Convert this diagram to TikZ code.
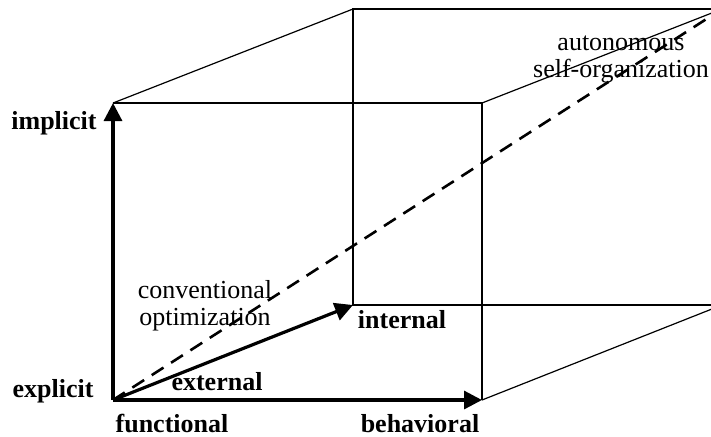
\documentclass[tikz,border=0pt]{standalone}
\usepackage{fontspec}
\setmainfont{Liberation Serif}
\usetikzlibrary{arrows.meta}

\begin{document}
\begin{tikzpicture}[x=0.5pt,y=-0.5pt,
    axis/.style={line width=1.6pt,-{Triangle[length=9pt,width=9pt]}},
    cube/.style={line width=0.6pt},
    diag/.style={line width=1.3pt,dash pattern=on 7pt off 4.5pt},
    lbl/.style={font=\fontsize{13}{13.5}\selectfont,inner sep=0pt,anchor=base},
    blbl/.style={lbl,font=\fontsize{13}{13.5}\selectfont\bfseries}]
    \useasboundingbox (0,0) rectangle (711,436);
    \clip (0,0) rectangle (711,436);
    % front face
    \coordinate (o) at (113,400);
    \coordinate (ftl) at (113,103);
    \coordinate (ftr) at (482,103);
    \coordinate (fbr) at (482,400);
    % back face
    \coordinate (bbl) at (353,305);
    \coordinate (btl) at (353,9);
    \coordinate (btr) at (722,9);
    \coordinate (bbr) at (722,305);

    \draw[cube] (ftl) -- (ftr) -- (fbr);
    \draw[cube] (bbr) -- (bbl) -- (btl) -- (btr);
    \draw[cube] (ftl) -- (btl);
    \draw[cube] (ftr) -- (btr);
    \draw[cube] (fbr) -- (bbr);
    \draw[diag] (o) -- (btr);
    \path[axis]
    (o) edge (ftl)
        edge (fbr)
        edge (bbl);

    \node[blbl] (implicit) at (54,129) {implicit};
    \node[blbl] (explicit) at (53,397) {explicit};
    \node[blbl] (functional) at (172,432) {functional};
    \node[blbl] (behavioral) at (420,432) {behavioral};
    \node[blbl] (external) at (217,390) {external};
    \node[blbl] (internal) at (402,328) {internal};
    \node[lbl,anchor=center,align=center] (conv) at (205,306) {conventional\\optimization};
    \node[lbl,anchor=center,align=center] (auto) at (621,59) {autonomous\\self-organization};
\end{tikzpicture}
\end{document}
